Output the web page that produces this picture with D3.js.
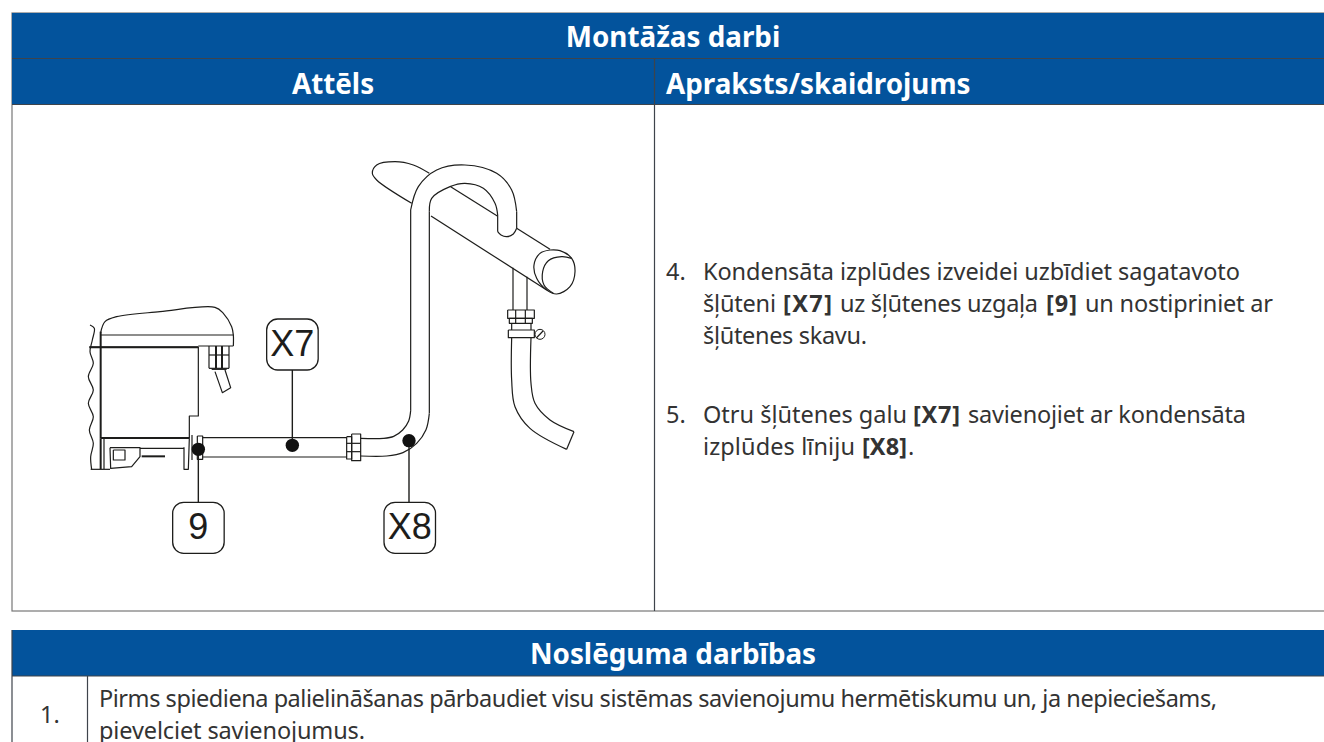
<!DOCTYPE html>
<html>
<head>
<meta charset="utf-8">
<script src="https://cdn.jsdelivr.net/npm/d3@7"></script>
<style>
  html, body { margin: 0; padding: 0; background: #fff; overflow: hidden; }
  text { font-family: "Noto Sans", sans-serif; }
</style>
</head>
<body>
<div id="sheet"></div>
<script>
// Text of the two tables
var mainTitle = "Montāžas darbi";
var columnTitles = ["Attēls", "Apraksts/skaidrojums"];
var stepNumbers = ["4.", "5."];
var stepFour = [
  [["Kondensāta izplūdes izveidei uzbīdiet sagatavoto", 0]],
  [["šļūteni", 0], ["[X7]", 1], ["uz šļūtenes uzgaļa", 0], ["[9]", 1], ["un nostipriniet ar", 0]],
  [["šļūtenes skavu.", 0]]
];
var stepFive = [
  [["Otru šļūtenes galu", 0], ["[X7]", 1], ["savienojiet ar kondensāta", 0]],
  [["izplūdes līniju", 0], ["[X8]", 1], [".", 0]]
];
var closingTitle = "Noslēguma darbības";
var closingNumber = "1.";
var closingLines = [
  "Pirms spiediena palielināšanas pārbaudiet visu sistēmas savienojumu hermētiskumu un, ja nepieciešams,",
  "pievelciet savienojumus."
];

// Where each text run starts and ends
var stepFourSpans = [
  [[703, 1240]],
  [[703, 776], [783, 832], [840, 1038], [1046, 1077], [1085, 1273]],
  [[703, 867]]
];
var stepFiveSpans = [
  [[703, 907], [913, 960], [968, 1246]],
  [[703, 855], [862, 907], [908, 914]]
];
var closingSpans = [[99, 1217], [99, 365]];

// Drawing. Two frames, each with its own scales:
// "low" covers the unit and the hose, "high" covers the pipes on the right
var pipeLowerBend = [[62, 948], [140, 948], [189, 938], [230, 910], [258, 869], [268, 820]];
var pipeInnerRise = [[268, 820], [268, 215]];
var pipeInnerArch = [[268, 215], [275, 175], [330, 140], [375, 130], [430, 145], [465, 190], [473, 225]];
var pipeHookInner = [[473, 225], [473, 275]];
var pipeHookCap = [[473, 275], [483, 285], [500, 290], [520, 282], [530, 265]];
var pipeHookOuter = [[530, 265], [530, 215]];
var pipeOuterArch = [[530, 215], [515, 150], [470, 100], [375, 75], [290, 90], [235, 140], [212, 210]];
var pipeOuterRise = [[212, 210], [212, 812]];
var pipeUpperBend = [[212, 812], [206, 843], [188, 870], [161, 889], [130, 895], [62, 895]];
var barBlob = [[215, 190], [110, 120], [97, 100], [110, 75], [165, 65], [220, 75], [268, 100]];
var barLower = [[273, 228], [620, 450]];
var barUpperLeft = [[332, 140], [472, 228]];
var barUpperRight = [[530, 265], [630, 328]];
var barCapOuter = [[630, 330], [600, 340], [582, 375], [590, 415], [620, 450], [650, 462], [690, 440], [705, 395], [695, 355], [660, 332], [630, 330]];
var barCapInner = [[695, 355], [665, 350], [625, 362], [608, 395], [612, 435], [640, 460]];
var dropLeft = [[519, 383], [519, 510]];
var dropRight = [[561, 410], [561, 510]];
var dropNut = [[503, 510], [583, 510], [583, 535], [503, 535], [503, 510]];
var dropNeck = [[508, 535], [577, 535], [577, 550], [508, 550], [508, 535]];
var dropNutLines = [[[527, 510], [527, 550]], [[556, 510], [556, 550]], [[515, 550], [515, 570]], [[573, 550], [573, 570]]];
var dropClamp = [[505, 570], [583, 570], [583, 593], [505, 593], [505, 570]];
var screwSlash = [[589, 594], [609, 573]];
var hoseLeft = [[515, 593], [515, 720], [525, 800], [570, 865], [680, 928]];
var hoseRight = [[573, 593], [573, 730], [585, 790], [630, 840], [702, 875]];
var hoseEnd = [[680, 928], [702, 875]];

var unitWave = [[90, 105], [103, 115], [97, 150], [90, 185], [100, 220], [85, 260], [100, 300], [85, 340], [100, 380], [88, 420], [100, 460], [92, 500], [95, 538]];
var unitRoof = [[122, 128], [135, 95], [170, 80], [300, 65], [465, 52], [490, 70], [515, 110], [520, 135], [520, 168]];
var unitLines = [
  [[122, 135], [520, 135]],
  [[88, 171], [415, 171]],
  [[415, 168], [520, 168]],
  [[415, 170], [415, 378], [388, 378], [388, 445]],
  [[132, 445], [132, 537]],
  [[92, 538], [150, 538]],
  [[240, 475], [372, 475]],
  [[372, 472], [372, 538], [385, 538], [388, 445]],
  [[396, 435], [396, 510]],
  [[465, 245], [487, 308], [512, 293], [495, 240]],
  [[447, 235], [507, 235]],
  [[447, 168], [447, 235]],
  [[507, 168], [507, 235]],
  [[447, 195], [507, 195]],
  [[455, 238], [500, 238]]
];
var unitHeavyLines = [
  [[122, 125], [122, 445]],
  [[122, 444], [388, 444]],
  [[88, 172], [415, 172]],
  [[245, 499], [315, 499]],
  [[468, 168], [468, 235]],
  [[486, 168], [486, 235]],
  [[122, 445], [122, 537]]
];
var unitFoot = [[150, 473], [240, 473], [240, 500], [215, 530], [152, 535], [150, 473]];
var unitPlug = [[160, 480], [195, 480], [195, 510], [160, 510], [160, 480]];
var hoseFitting = [[412, 438], [428, 438], [428, 508], [412, 508], [412, 438]];
var hoseLines = [[[428, 443], [860, 443]], [[428, 501], [860, 501]]];
var hoseNut = [
  [[860, 440], [875, 440], [875, 507], [860, 507], [860, 440]],
  [[875, 432], [902, 432], [902, 512], [875, 512], [875, 432]],
  [[860, 460], [902, 460]],
  [[860, 485], [902, 485]]
];

var calloutNames = ["X7", "9", "X8"];
var calloutBoxes = [[620, 87], [338, 637], [972, 637]];
var calloutDots = [[697, 466], [415, 478], [1047, 452]];
var calloutEnds = [[697, 240], [415, 637], [1047, 637]];

var svgWidth = 1324;
var svgHeight = 742;
var blue = "#03539c";
var ink = "#333333";

var svg = d3.select("#sheet")
  .append("svg")
  .attr("width", svgWidth)
  .attr("height", svgHeight)
  .style("display", "block");

// Table frames
svg.append("rect").attr("x", 12).attr("y", 13).attr("width", 1330).attr("height", 598)
  .attr("fill", "none").attr("stroke", "#777777").attr("stroke-width", 1.2);
svg.append("rect").attr("x", 12).attr("y", 13).attr("width", 1312).attr("height", 91.5).attr("fill", blue);
svg.append("rect").attr("x", 12).attr("y", 630).attr("width", 1312).attr("height", 46).attr("fill", blue);

var tableLines = [
  [12, 58.5, 1324, 58.5], [12, 104.5, 1324, 104.5], [654.5, 58.5, 654.5, 611],
  [12, 676, 1324, 676], [87.5, 676, 87.5, 742], [12, 630, 12, 742]
];
svg.selectAll("line.rule")
  .data(tableLines)
  .enter()
  .append("line")
  .attr("class", "rule")
  .attr("x1", d => d[0]).attr("y1", d => d[1])
  .attr("x2", d => d[2]).attr("y2", d => d[3])
  .attr("stroke", "#3e444b")
  .attr("stroke-width", 1.2);

// Headings
function heading(label, x, y, anchor) {
  svg.append("text")
    .attr("x", x).attr("y", y)
    .attr("text-anchor", anchor)
    .attr("fill", "#ffffff")
    .style("font-size", "27.8px")
    .style("font-weight", "bold")
    .text(label);
}
heading(mainTitle, 673, 47, "middle");
heading(columnTitles[0], 333, 94, "middle");
heading(columnTitles[1], 666, 94, "start");
heading(closingTitle, 673, 664, "middle");

// Body text, one element per run, stretched to the width it has in the picture
function bodyRun(label, bold, span, y) {
  svg.append("text")
    .attr("x", span[0]).attr("y", y)
    .attr("fill", ink)
    .attr("textLength", span[1] - span[0])
    .attr("lengthAdjust", "spacing")
    .style("font-size", "23.5px")
    .style("font-weight", bold ? "bold" : "normal")
    .text(label);
}
function bodyLines(lines, spans, top, step) {
  lines.forEach(function(runs, i) {
    runs.forEach(function(run, j) {
      bodyRun(run[0], run[1], spans[i][j], top + i * step);
    });
  });
}
function plainText(label, x, y) {
  svg.append("text")
    .attr("x", x).attr("y", y)
    .attr("fill", ink)
    .style("font-size", "23.5px")
    .text(label);
}
plainText(stepNumbers[0], 666, 280);
bodyLines(stepFour, stepFourSpans, 280, 32);
plainText(stepNumbers[1], 666, 423);
bodyLines(stepFive, stepFiveSpans, 423, 31.5);
plainText(closingNumber, 40, 723);
closingLines.forEach((txt, i) => bodyRun(txt, false, closingSpans[i], 707 + i * 31.5));

// Scales for the two traced frames
var lowX = d3.scaleLinear().domain([0, 1200]).range([60, 460]);
var lowY = d3.scaleLinear().domain([0, 810]).range([290, 560]);
var highX = d3.scaleLinear().domain([0, 780]).range([340, 600]);
var highY = d3.scaleLinear().domain([0, 960]).range([140, 460]);

function stroke(points, xs, ys, smooth, width) {
  var path = d3.line()
    .x(d => xs(d[0]))
    .y(d => ys(d[1]))
    .curve(smooth ? d3.curveCatmullRom.alpha(0.5) : d3.curveLinear);
  svg.append("path")
    .attr("d", path(points))
    .attr("fill", "none")
    .attr("stroke", "#1d1d1b")
    .attr("stroke-width", width || 1.2)
    .attr("stroke-linejoin", "round");
}

[pipeLowerBend, pipeInnerArch, pipeHookCap, pipeOuterArch, pipeUpperBend, barBlob, barCapOuter, barCapInner, hoseLeft, hoseRight]
  .forEach(p => stroke(p, highX, highY, true));
[pipeInnerRise, pipeHookInner, pipeHookOuter, pipeOuterRise, barLower, barUpperLeft, barUpperRight, dropLeft, dropRight, dropNut, dropNeck, dropClamp, hoseEnd]
  .concat(dropNutLines)
  .forEach(p => stroke(p, highX, highY, false));

svg.append("circle")
  .attr("cx", highX(600)).attr("cy", highY(583)).attr("r", 5)
  .attr("fill", "#fff").attr("stroke", "#1d1d1b").attr("stroke-width", 1);
stroke(screwSlash, highX, highY, false);

[unitWave, unitRoof].forEach(p => stroke(p, lowX, lowY, true));
unitLines.concat([unitFoot, unitPlug, hoseFitting], hoseLines, hoseNut)
  .forEach(p => stroke(p, lowX, lowY, false));
unitHeavyLines.forEach(p => stroke(p, lowX, lowY, false, 2));

// Callouts
calloutNames.forEach(function(name, i) {
  stroke([calloutEnds[i], calloutDots[i]], lowX, lowY, false, 1.4);
  svg.append("circle")
    .attr("cx", lowX(calloutDots[i][0])).attr("cy", lowY(calloutDots[i][1])).attr("r", 6.7)
    .attr("fill", "#111111");
  svg.append("rect")
    .attr("x", lowX(calloutBoxes[i][0])).attr("y", lowY(calloutBoxes[i][1]))
    .attr("width", 51.5).attr("height", 51).attr("rx", 11)
    .attr("fill", "#ffffff").attr("stroke", "#1d1d1b").attr("stroke-width", 1.3);
  svg.append("text")
    .attr("x", lowX(calloutBoxes[i][0]) + 25.7).attr("y", lowY(calloutBoxes[i][1]) + 37)
    .attr("text-anchor", "middle")
    .attr("fill", "#1d1d1b")
    .style("font-family", "'Liberation Sans', sans-serif")
    .style("font-size", "36px")
    .text(name);
});
</script>
</body>
</html>
